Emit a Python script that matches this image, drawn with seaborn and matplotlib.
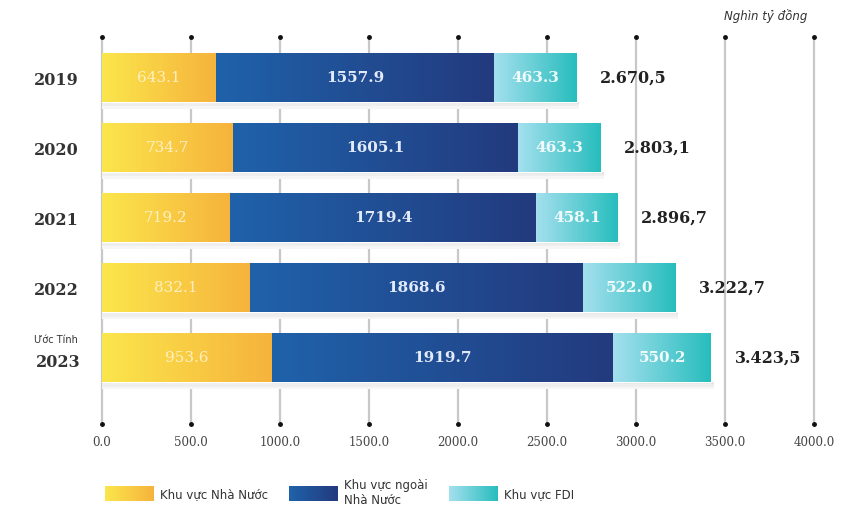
"""Stacked horizontal bars: budget revenue by sector, 2019-2023 (gradient fills)."""
import numpy as np
import pandas as pd
import matplotlib
matplotlib.use("Agg")
import matplotlib.pyplot as plt
import seaborn as sns
from matplotlib.colors import LinearSegmentedColormap
from matplotlib.legend_handler import HandlerBase
from matplotlib.image import BboxImage
from matplotlib.transforms import Bbox, TransformedBbox
from matplotlib.patches import Patch

years = ["2019", "2020", "2021", "2022", "2023"]
state = [643.1, 734.7, 719.2, 832.1, 953.6]
non_state = [1557.9, 1605.1, 1719.4, 1868.6, 1919.7]
fdi = [463.3, 463.3, 458.1, 522.0, 550.2]
totals = ["2.670,5", "2.803,1", "2.896,7", "3.222,7", "3.423,5"]
sectors = ["Khu vực Nhà Nước", "Khu vực ngoài\nNhà Nước", "Khu vực FDI"]
xticks = [0, 500, 1000, 1500, 2000, 2500, 3000, 3500, 4000]

cmaps = [
    LinearSegmentedColormap.from_list("st", ["#fbe64c", "#f6b33c"]),
    LinearSegmentedColormap.from_list("ns", ["#1f62aa", "#233a7e"]),
    LinearSegmentedColormap.from_list("fdi", ["#a4e0ee", "#27bdbd"]),
]
GRAD = np.linspace(0, 1, 256).reshape(1, -1)

sns.set_style("white")
plt.rcParams["font.family"] = ["DejaVu Sans"]

df = pd.DataFrame({"year": years, "state": state, "non_state": non_state, "fdi": fdi})
df["c1"] = df["state"]
df["c2"] = df["c1"] + df["non_state"]
df["c3"] = df["c2"] + df["fdi"]

fig = plt.figure(figsize=(8.55, 5.07), dpi=100)
ax = fig.add_axes([102 / 855, 1 - 424 / 507, 712 / 855, 387 / 507])

# layered cumulative bars, longest first
for col in ["c3", "c2", "c1"]:
    sns.barplot(data=df, x=col, y="year", orient="h", color="white",
                width=0.69, ax=ax, zorder=2)

ylim = (4.94, -0.586)
h = 0.69
lefts = [np.zeros(len(years)), df["c1"].values, df["c2"].values]
rights = [df["c1"].values, df["c2"].values, df["c3"].values]

# gradient fills per segment
for k in range(3):
    for i in range(len(years)):
        ax.imshow(GRAD, cmap=cmaps[k], aspect="auto", zorder=3,
                  extent=[lefts[k][i], rights[k][i], i + h / 2, i - h / 2])
ax.set_xlim(0, 4000)
ax.set_ylim(*ylim)

# soft shadow under each bar
for i in range(len(years)):
    for j, c in enumerate(["#e4e4e4", "#eeeeee", "#f6f6f6"]):
        ax.fill_between([0, df["c3"][i] + 15], i + h / 2, i + h / 2 + 0.03 * (j + 1),
                        color=c, zorder=1.5 - j * 0.1, lw=0)

# segment labels
vals = [state, non_state, fdi]
label_style = [dict(color="#fff8e0", alpha=0.8, fontweight="normal"),
               dict(color="#eef4ff", alpha=0.95, fontweight="bold"),
               dict(color="white", alpha=0.9, fontweight="bold")]
for k in range(3):
    for i in range(len(years)):
        ax.text((lefts[k][i] + rights[k][i]) / 2, i, f"{vals[k][i]:.1f}",
                ha="center", va="center", fontsize=11, family="DejaVu Serif",
                zorder=5, **label_style[k])

# totals
for i in range(len(years)):
    ax.text(df["c3"][i] + 130, i, totals[i], ha="left", va="center",
            fontsize=11.5, fontweight="bold", family="DejaVu Serif",
            color="#222222", zorder=5)

# vertical guide lines with dots at both ends
for xv in xticks:
    ax.plot([xv, xv], list(ylim), color="#c8c8c8", lw=1.6, zorder=0, clip_on=False)
ax.plot(xticks, [ylim[1]] * len(xticks), "o", color="#111111", ms=2.5, clip_on=False, zorder=4)
ax.plot(xticks, [ylim[0]] * len(xticks), "o", color="#111111", ms=2.5, clip_on=False, zorder=4)

ax.set_xticks(xticks)
ax.set_xticklabels([f"{v:.1f}" for v in xticks], fontsize=8.5, color="#444444",
                   family="DejaVu Serif")
ax.tick_params(axis="x", length=0, pad=9)
ax.set_yticks(range(len(years)))
ax.set_yticklabels([y if y != "2023" else "" for y in years], fontsize=11.5,
                   fontweight="bold", family="DejaVu Serif", color="#333333")
ax.tick_params(axis="y", length=0, pad=17)
ax.text(-22 / 712, 4 + 0.06, "2023", transform=ax.get_yaxis_transform(), ha="right",
        va="center", fontsize=11.5, fontweight="bold", family="DejaVu Serif", color="#333333")
ax.text(-24 / 712, 4 - 0.26, "Ước Tính", transform=ax.get_yaxis_transform(), ha="right",
        va="center", fontsize=7, color="#333333")
ax.set_xlabel("")
ax.set_ylabel("")
sns.despine(ax=ax, left=True, bottom=True)

fig.text(766 / 855, 1 - 16 / 507, "Nghìn tỷ đồng", ha="center", va="center",
         fontsize=8.5, style="italic", color="#333333")


class GradientHandler(HandlerBase):
    def __init__(self, cmap):
        super().__init__()
        self.cmap = cmap

    def create_artists(self, legend, orig_handle, xdescent, ydescent, width,
                       height, fontsize, trans):
        bb = Bbox.from_bounds(-xdescent, -ydescent, width, height)
        img = BboxImage(TransformedBbox(bb, trans), cmap=self.cmap, interpolation="bilinear")
        img.set_data(GRAD)
        return [img]


handles = [Patch(label=s) for s in sectors]
leg = fig.legend(handles=handles, labels=sectors, ncol=3,
                 handler_map={h_: GradientHandler(c) for h_, c in zip(handles, cmaps)},
                 loc="upper left", bbox_to_anchor=(94 / 855, 1 - 468 / 507),
                 frameon=False, fontsize=8.5, handlelength=4.1, handleheight=1.45,
                 handletextpad=0.55, columnspacing=1.8, labelcolor="#333333")

fig.savefig("out.png", dpi=100)
